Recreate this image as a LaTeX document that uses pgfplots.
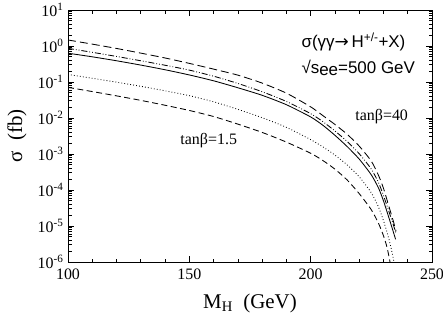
\documentclass[border=0pt]{standalone}
\usepackage{fontspec}
\setmainfont{Liberation Serif}
\newfontfamily\helv{Liberation Sans}
\newfontfamily\dejavu{DejaVu Sans}
\usepackage{pgfplots}
\pgfplotsset{compat=1.18}

\begin{document}
\begin{tikzpicture}
\useasboundingbox (-68bp,-69bp) rectangle (375bp,262bp);
\begin{axis}[
  scale only axis,
  width=364bp, height=252bp,
  ymode=log,
  xmin=100, xmax=250,
  ymin=1e-6, ymax=10,
  xtick={100,150,200,250},
  minor x tick num=4,
  ytick={1e-6,1e-5,1e-4,1e-3,1e-2,1e-1,1,10},
  yticklabels={10\textsuperscript{-6},10\textsuperscript{-5},10\textsuperscript{-4},10\textsuperscript{-3},10\textsuperscript{-2},10\textsuperscript{-1},10\textsuperscript{0},10\textsuperscript{1}},
  tick align=inside,
  tick pos=both,
  major tick length=6bp,
  minor tick length=3.5bp,
  /pgf/number format/assume math mode=true,
  tick label style={font=\fontsize{16}{18}\selectfont},
  xticklabel style={yshift=-3bp},
  yticklabel style={xshift=-1bp},
  axis line style={line width=0.9pt},
  every tick/.style={black,line width=0.7pt},
  xlabel={M\textsubscript{H}\ \ (GeV)},
  ylabel={σ\ \ (fb)},
  xlabel style={font=\fontsize{21}{24}\selectfont,at={(axis description cs:0.5,-0.163)},anchor=center},
  ylabel style={font=\fontsize{21}{24}\selectfont,at={(axis description cs:-0.14,0.5)},anchor=center},
  every axis plot/.append style={black,line width=0.85pt,mark=none,smooth,tension=0.4},
  clip=true,
]
% long dashed
\addplot[dash pattern=on 8bp off 4bp] coordinates {
(100,1.469) (110,1.127) (120,0.855) (130,0.634) (140,0.465) (150,0.329)
(160,0.228) (170,0.155) (180,0.0933) (190,0.0490) (200,0.0204) (205,0.0117)
(210,6.61e-3) (215,3.55e-3) (220,1.66e-3) (225,6.31e-4) (228,2.51e-4)
(230,1.12e-4) (232,3.98e-5) (234,1.41e-5) (235.2,7.08e-6)};
% dash-dot-dot
\addplot[dash pattern=on 6bp off 2bp on 0.8bp off 2bp on 0.8bp off 2bp] coordinates {
(100,0.861) (110,0.668) (120,0.513) (130,0.389) (140,0.292) (150,0.214)
(160,0.145) (170,0.0912) (180,0.0537) (190,0.0288) (200,0.0132) (205,7.94e-3)
(210,4.37e-3) (215,2.24e-3) (220,1.02e-3) (225,3.80e-4) (228,1.58e-4)
(230,7.08e-5) (232,2.82e-5) (234,1.12e-5) (235.2,6.03e-6)};
% solid
\addplot[solid] coordinates {
(100,0.631) (110,0.501) (120,0.389) (130,0.295) (140,0.219) (150,0.157)
(160,0.108) (170,0.0692) (180,0.0427) (190,0.0234) (200,0.0107) (205,6.31e-3)
(210,3.31e-3) (215,1.62e-3) (220,7.24e-4) (225,2.63e-4) (228,1.12e-4)
(230,5.01e-5) (232,1.91e-5) (234,7.08e-6) (235,4.27e-6)};
% dotted
\addplot[dash pattern=on 0.8bp off 2.2bp] coordinates {
(100,0.162) (110,0.127) (120,0.0989) (130,0.0759) (140,0.0569) (150,0.0417)
(160,0.0282) (170,0.0174) (180,0.0102) (190,5.50e-3) (200,2.51e-3) (205,1.58e-3)
(210,9.33e-4) (215,5.01e-4) (220,2.34e-4) (225,8.32e-5) (228,3.31e-5)
(230,1.41e-5) (232,5.01e-6) (233.5,1.91e-6) (234.3,1.0e-6)};
% short dashed
\addplot[dash pattern=on 6bp off 3.5bp] coordinates {
(100,0.0708) (110,0.0543) (120,0.0412) (130,0.0309) (140,0.0226) (150,0.0162)
(160,0.0110) (170,6.76e-3) (180,3.98e-3) (190,2.14e-3) (200,1.05e-3) (205,6.61e-4)
(210,3.80e-4) (215,1.91e-4) (220,7.94e-5) (225,2.82e-5) (228,1.17e-5)
(230,5.37e-6) (231.5,2.51e-6) (232.7,1.0e-6)};
\node[anchor=west,font=\helv\fontsize{17}{19}\selectfont] at (axis cs:194.8,1.29) {σ(γγ{\dejavu→}\,H\textsuperscript{+/-}+X)};
\node[anchor=west,font=\helv\fontsize{17}{19}\selectfont] at (axis cs:194.8,0.245) {√s\raisebox{-0.3ex}{ee}=500 GeV};
\node[anchor=west,font=\fontsize{16}{18}\selectfont] at (axis cs:217,0.0107) {tanβ=40};
\node[anchor=west,font=\fontsize{16}{18}\selectfont] at (axis cs:144.9,2.29e-3) {tanβ=1.5};
\end{axis}
\end{tikzpicture}
\end{document}
